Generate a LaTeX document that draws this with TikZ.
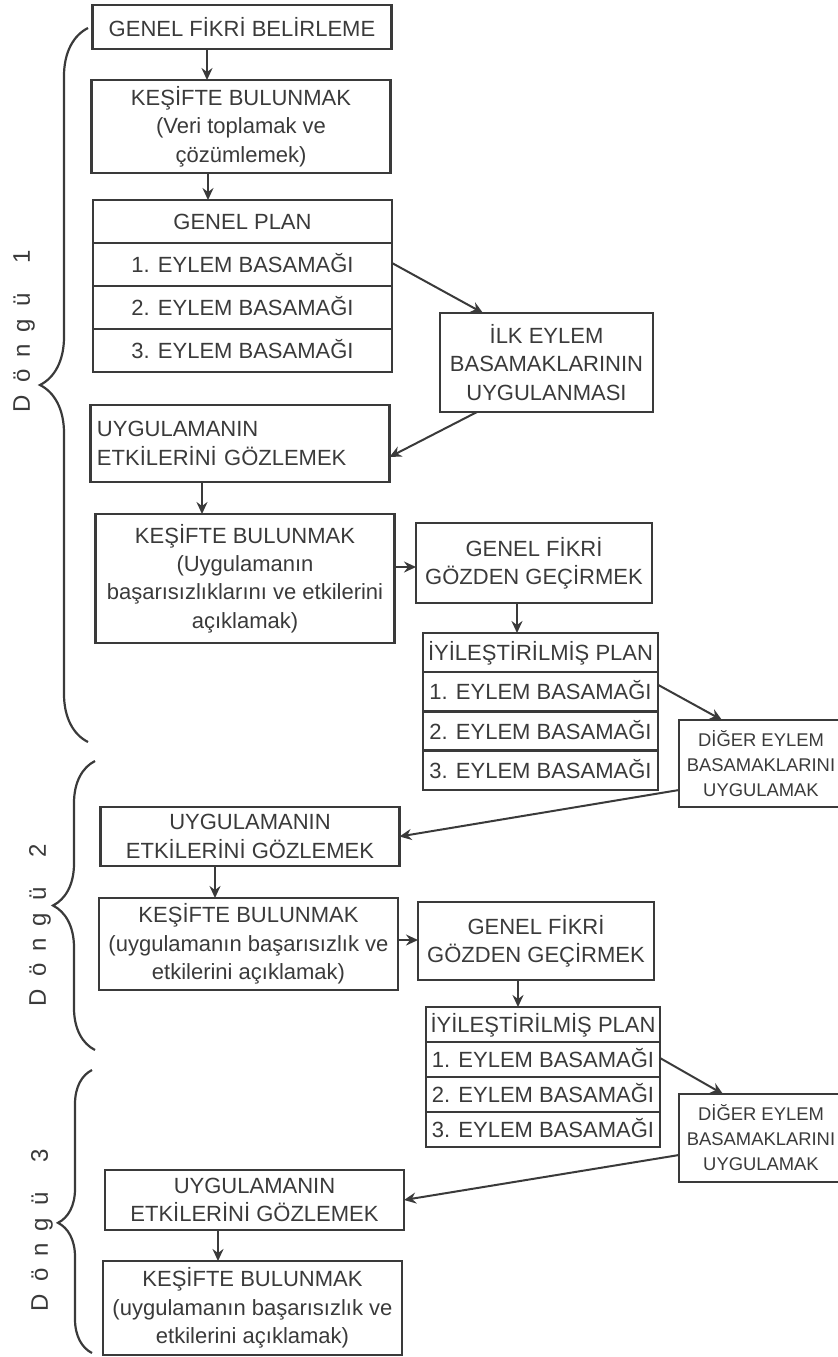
\documentclass[tikz,border=0pt]{standalone}
\usepackage{fontspec}
\setmainfont{Liberation Sans}
\usetikzlibrary{positioning,arrows.meta,decorations.pathreplacing}
\definecolor{ink}{HTML}{3A3A3A}
\newcommand{\dongu}[1]{D\kern6pt ö\kern6pt n\kern6pt g\kern6pt ü\kern15pt #1}

\begin{document}
\begin{tikzpicture}[
    x=0.5pt, y=-0.5pt,
    box/.style={rectangle, draw=ink, line width=1.15pt, align=center, inner sep=2pt, outer sep=0pt, text=ink, font=\fontsize{11}{14.2}\selectfont},
    wide/.style={box, minimum width=149.5pt},
    narrow/.style={box, minimum width=118pt},
    diger/.style={box, inner xsep=0.5pt, minimum width=82pt, font=\fontsize{9.2}{12.5}\selectfont},
    rowa/.style={box, minimum width=149.5pt, minimum height=21.5pt, text height=8pt, text depth=0pt, inner ysep=0pt},
    rowb/.style={box, minimum width=117.5pt, minimum height=19.6pt, text height=8pt, text depth=0pt, inner ysep=0pt},
    rowc/.style={box, minimum width=117pt, minimum height=17.5pt, text height=8pt, text depth=0pt, inner ysep=0pt},
    arrow/.style={-{Stealth[length=6pt, width=5.5pt, inset=2pt]}, line width=1pt, draw=ink},
    loopbrace/.style={draw=ink, line width=1.1pt, decorate, decoration={brace, amplitude=#1}},
    looplabel/.style={rotate=90, text=ink, font=\fontsize{12}{14}\selectfont, inner sep=0pt}
]
\clip (0,0) rectangle (838,1357);
\useasboundingbox (0,0) rectangle (838,1357);

\node[wide, minimum height=22pt] (idea) at (242,27) {GENEL FİKRİ BELİRLEME};
\node[wide, minimum height=46.5pt] (kesif1) at (241,126.5) {KEŞİFTE BULUNMAK\\(Veri toplamak ve\\çözümlemek)};
\node[rowa] (p1h) at (242.5,221.5) {GENEL PLAN};
\node[rowa, below=0pt of p1h] (p1a) {1. EYLEM BASAMAĞI};
\node[rowa, below=0pt of p1a] (p1b) {2. EYLEM BASAMAĞI};
\node[rowa, below=0pt of p1b] (p1c) {3. EYLEM BASAMAĞI};
\node[box, minimum width=106.5pt, minimum height=49.5pt] (ilk) at (546.5,362.5) {İLK EYLEM\\BASAMAKLARININ\\UYGULANMASI};
\node[wide, minimum height=38.5pt, text width=143pt, align=left, inner xsep=3pt] (gozlem1) at (240,443.5) {UYGULAMANIN\\ETKİLERİNİ GÖZLEMEK};
\node[wide, minimum height=64.5pt] (kesif2) at (245,578.5) {KEŞİFTE BULUNMAK\\(Uygulamanın\\başarısızlıklarını ve etkilerini\\açıklamak)};
\node[narrow, minimum height=40pt] (gozden1) at (534,563) {GENEL FİKRİ\\GÖZDEN GEÇİRMEK};
\node[rowb] (p2h) at (540.5,652.6) {İYİLEŞTİRİLMİŞ PLAN};
\node[rowb, below=0pt of p2h] (p2a) {1. EYLEM BASAMAĞI};
\node[rowb, below=0pt of p2a] (p2b) {2. EYLEM BASAMAĞI};
\node[rowb, below=0pt of p2b] (p2c) {3. EYLEM BASAMAĞI};
\node[diger, minimum height=43.5pt] (diger1) at (761,763.5) {DİĞER EYLEM\\BASAMAKLARINI\\UYGULAMAK};
\node[wide, minimum height=29.5pt] (gozlem2) at (250,836.5) {UYGULAMANIN\\ETKİLERİNİ GÖZLEMEK};
\node[wide, minimum height=46pt] (kesif3) at (248.5,944) {KEŞİFTE BULUNMAK\\(uygulamanın başarısızlık ve\\etkilerini açıklamak)};
\node[narrow, minimum height=39pt] (gozden2) at (536,941) {GENEL FİKRİ\\GÖZDEN GEÇİRMEK};
\node[rowc] (p3h) at (543,1024.5) {İYİLEŞTİRİLMİŞ PLAN};
\node[rowc, below=0pt of p3h] (p3a) {1. EYLEM BASAMAĞI};
\node[rowc, below=0pt of p3a] (p3b) {2. EYLEM BASAMAĞI};
\node[rowc, below=0pt of p3b] (p3c) {3. EYLEM BASAMAĞI};
\node[diger, minimum height=44pt] (diger2) at (761,1138) {DİĞER EYLEM\\BASAMAKLARINI\\UYGULAMAK};
\node[wide, minimum height=30pt] (gozlem3) at (254.5,1200) {UYGULAMANIN\\ETKİLERİNİ GÖZLEMEK};
\node[wide, minimum height=47pt] (kesif4) at (252.5,1308) {KEŞİFTE BULUNMAK\\(uygulamanın başarısızlık ve\\etkilerini açıklamak)};

\draw[arrow] ([xshift=-17.5pt]idea.south) -- ([xshift=-17pt]kesif1.north);
\draw[arrow] ([xshift=-16.5pt]kesif1.south) -- ([xshift=-17.25pt]p1h.north);
\draw[arrow] ([yshift=0.75pt]p1a.east) -- ([xshift=-31.75pt]ilk.north);
\draw[arrow] ([xshift=-34.75pt]ilk.south) -- ([yshift=-6.75pt]gozlem1.east);
\draw[arrow] ([xshift=-19pt]gozlem1.south) -- ([xshift=-21.5pt]kesif2.north);
\draw[arrow] ([yshift=5.75pt]kesif2.east) -- ([yshift=-2pt]gozden1.west);
\draw[arrow] ([xshift=-8.5pt]gozden1.south) -- ([xshift=-11.75pt]p2h.north);
\draw[arrow] ([yshift=3.5pt]p2a.east) -- ([xshift=-19.5pt]diger1.north);
\draw[arrow] ([yshift=-13.25pt]diger1.west) -- (gozlem2.east);
\draw[arrow] ([xshift=-17.5pt]gozlem2.south) -- ([xshift=-16.75pt]kesif3.north);
\draw[arrow] ([yshift=2pt]kesif3.east) -- ([yshift=0.5pt]gozden2.west);
\draw[arrow] ([xshift=-9pt]gozden2.south) -- ([xshift=-12.5pt]p3h.north);
\draw[arrow] ([yshift=0.75pt]p3a.east) -- ([xshift=-19pt]diger2.north);
\draw[arrow] ([yshift=-8.5pt]diger2.west) -- (gozlem3.east);
\draw[arrow] ([xshift=-18.25pt]gozlem3.south) -- ([xshift=-17.25pt]kesif4.north);

\draw[loopbrace=24pt] (88,742) -- (88,28);
\draw[loopbrace=21pt] (95,1050) -- (95,761);
\draw[loopbrace=17pt, decoration={aspect=0.46}] (92,1353) -- (92,1070);

\node[looplabel] (d1) at (24,331) {\dongu{1}};
\node[looplabel] (d2) at (40,925) {\dongu{2}};
\node[looplabel] (d3) at (42,1230) {\dongu{3}};
\end{tikzpicture}
\end{document}
